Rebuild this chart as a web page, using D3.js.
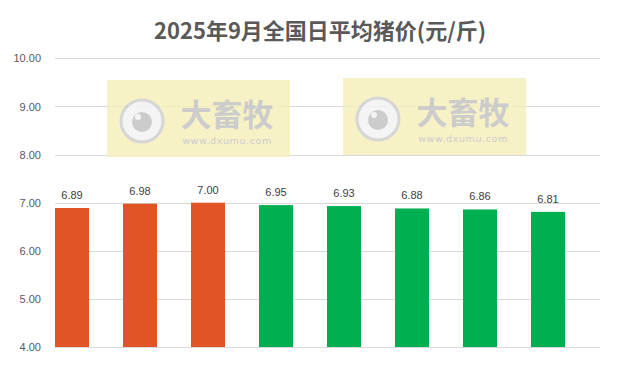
<!DOCTYPE html>
<html><head><meta charset="utf-8">
<script src="https://cdn.jsdelivr.net/npm/d3@7"></script>
<style>html,body{margin:0;padding:0;background:#fff;}svg{display:block;}</style>
</head><body>
<svg id="c" width="628" height="372"></svg>
<script>
const title = "2025年9月全国日平均猪价(元/斤)";
const categories = ["9/1","9/2","9/3","9/4","9/5","9/6","9/7","9/8"];
const values = [6.89, 6.98, 7.00, 6.95, 6.93, 6.88, 6.86, 6.81];
const barColors = ["#e05426","#e05426","#e05426","#00b050","#00b050","#00b050","#00b050","#00b050"];
const yTicks = [4, 5, 6, 7, 8, 9, 10];
const watermarkMain = "大畜牧";
const watermarkSub = "www.dxumu.com";

const svg = d3.select("#c");
const gridX0 = 55, gridX1 = 600;
const y = d3.scaleLinear().domain([4, 10]).range([347, 58.4]);
const x = d3.scaleBand().domain(categories).range([38, 582]).paddingInner(0.5).paddingOuter(0.25);

// title
svg.append("text").attr("x", 320).attr("y", 39).attr("text-anchor", "middle")
  .attr("font-family", "'Noto Sans CJK SC', sans-serif").attr("font-weight", "bold")
  .attr("font-size", 22).attr("fill", "#595959").text(title);

// gridlines
svg.append("g").selectAll("line").data(yTicks).join("line")
  .attr("x1", gridX0).attr("x2", gridX1)
  .attr("y1", d => Math.round(y(d)) + 0.5).attr("y2", d => Math.round(y(d)) + 0.5)
  .attr("stroke", "#d9d9d9").attr("stroke-width", 1);

// y axis labels
const yAxis = d3.axisLeft(y).tickValues(yTicks).tickFormat(d3.format(".2f")).tickSize(0).tickPadding(0);
const ga = svg.append("g").attr("transform", "translate(41,0)").call(yAxis);
ga.select(".domain").remove();
ga.selectAll("text").attr("font-family", "'Liberation Sans', Arial, sans-serif").attr("font-size", 11).attr("fill", "#595959");

// bars
svg.append("g").selectAll("rect").data(values).join("rect")
  .attr("x", (d, i) => x(categories[i])).attr("width", x.bandwidth())
  .attr("y", d => y(d)).attr("height", d => y(4) - y(d))
  .attr("fill", (d, i) => barColors[i]);

// labels
svg.append("g").selectAll("text").data(values).join("text")
  .attr("x", (d, i) => x(categories[i]) + x.bandwidth() / 2)
  .attr("y", d => y(d) - 9).attr("text-anchor", "middle")
  .attr("font-family", "'Liberation Sans', Arial, sans-serif").attr("font-size", 11).attr("fill", "#404040")
  .text(d => d3.format(".2f")(d));

// watermarks
function watermark(x0, y0) {
  const g = svg.append("g").attr("transform", `translate(${x0},${y0})`).attr("opacity", 0.85);
  g.append("rect").attr("x", 0).attr("y", 0).attr("width", 183).attr("height", 77).attr("fill", "#f6efbd");
  g.append("circle").attr("cx", 35).attr("cy", 41).attr("r", 21).attr("fill", "#f3f3f3").attr("stroke", "#cfcfcf").attr("stroke-width", 3);
  g.append("circle").attr("cx", 35).attr("cy", 42).attr("r", 10).attr("fill", "#c4c4c4");
  g.append("circle").attr("cx", 31).attr("cy", 37).attr("r", 3).attr("fill", "#f3f3f3");
  g.append("text").attr("x", 120).attr("y", 46).attr("text-anchor", "middle")
    .attr("font-family", "'Noto Sans CJK SC', sans-serif").attr("font-weight", "bold").attr("font-size", 31)
    .attr("fill", "#c4c4c4").text(watermarkMain);
  g.append("text").attr("x", 120).attr("y", 64).attr("text-anchor", "middle")
    .attr("font-family", "'DejaVu Sans', sans-serif").attr("font-size", 9.5).attr("letter-spacing", 0.6)
    .attr("fill", "#c4c4c4").text(watermarkSub);
}
watermark(107, 80);
watermark(343, 78);
</script>
</body></html>
